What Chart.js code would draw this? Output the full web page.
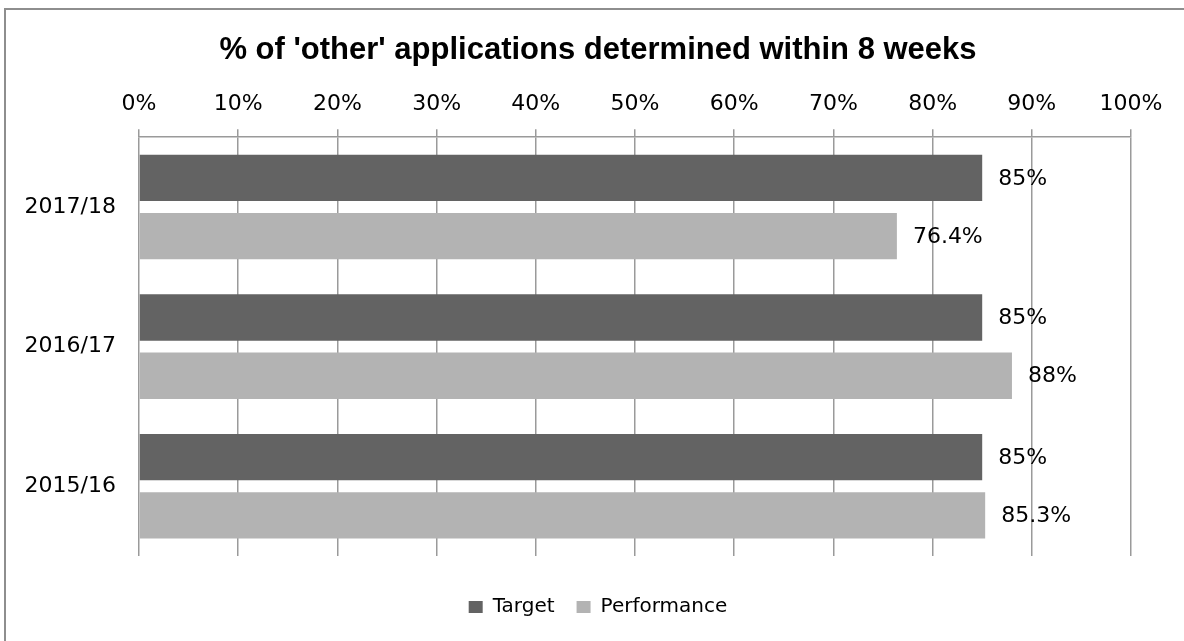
<!DOCTYPE html>
<html>
<head>
<meta charset="utf-8">
<script src="https://cdn.jsdelivr.net/npm/chart.js@4.4.0/dist/chart.umd.min.js"></script>
<style>
  html, body { margin: 0; padding: 0; background: #fff; overflow: hidden; }
  #frame {
    position: absolute; left: 4px; top: 8px; width: 1300px; height: 800px;
    border-left: 2px solid #8e8e8e; border-top: 2px solid #8e8e8e;
  }
  #wrap { position: absolute; left: 0; top: 0; width: 1184px; height: 641px; }
</style>
</head>
<body>
<div id="frame"></div>
<div id="wrap"><canvas id="chart" width="1184" height="641"></canvas></div>
<script>
// Financial years, top to bottom
const years = ['2017/18', '2016/17', '2015/16'];
// Share of 'other' applications decided within 8 weeks (%)
const targetValues = [85, 85, 85];
const performanceValues = [76.4, 88, 85.3];
// Percentage axis ticks
const tickValues = [0, 10, 20, 30, 40, 50, 60, 70, 80, 90, 100];

const bodyFont = 'DejaVu Sans';

// Writes each bar's value just past its end
const valueLabels = {
  id: 'valueLabels',
  afterDatasetsDraw(chart) {
    const ctx = chart.ctx;
    ctx.save();
    ctx.font = '22px "' + bodyFont + '"';
    ctx.fillStyle = '#000';
    ctx.textAlign = 'left';
    ctx.textBaseline = 'middle';
    chart.data.datasets.forEach((ds, i) => {
      chart.getDatasetMeta(i).data.forEach((bar, j) => {
        ctx.fillText(ds.data[j] + '%', bar.x + 16, bar.y + 1);
      });
    });
    ctx.restore();
  }
};

// Empty axis used only to reserve space around the plot
const spacer = (position, size) => ({
  type: 'linear',
  position: position,
  display: true,
  ticks: { display: false },
  grid: { display: false, drawTicks: false },
  border: { display: false },
  afterFit(scale) {
    if (position === 'left' || position === 'right') scale.width = size;
    else scale.height = size;
  }
});

new Chart(document.getElementById('chart'), {
  type: 'bar',
  data: {
    labels: years,
    datasets: [
      { label: 'Target', data: targetValues, backgroundColor: '#636363',
        barPercentage: 0.795, categoryPercentage: 0.835 },
      { label: 'Performance', data: performanceValues, backgroundColor: '#b3b3b3',
        barPercentage: 0.795, categoryPercentage: 0.835 }
    ]
  },
  options: {
    indexAxis: 'y',
    responsive: false,
    animation: false,
    events: [],
    layout: { padding: { left: 12, right: 0, top: 0, bottom: 14 } },
    scales: {
      x: {
        position: 'top',
        min: 0, max: 100,
        afterBuildTicks(scale) { scale.ticks = tickValues.map(v => ({ value: v })); },
        afterFit(scale) { scale.height = 58.5; },
        ticks: {
          callback: v => v + '%',
          font: { family: bodyFont, size: 22 },
          color: '#000',
          padding: 12,
          maxRotation: 0
        },
        grid: { color: '#9a9a9a', lineWidth: 1.5, tickLength: 8, drawTicks: true },
        border: { color: '#9a9a9a', width: 1.5 }
      },
      y: {
        afterFit(scale) { scale.width = 127; },
        ticks: {
          font: { family: bodyFont, size: 22 },
          color: '#000',
          padding: 15
        },
        grid: { display: false },
        border: { display: false }
      },
      padRight: spacer('right', 53),
      padBottom: spacer('bottom', 19)
    },
    plugins: {
      title: {
        display: true,
        text: "% of 'other' applications determined within 8 weeks",
        font: { family: 'Liberation Sans', size: 31, weight: 'bold' },
        color: '#000',
        padding: { top: 31.5, bottom: 10 }
      },
      legend: {
        position: 'bottom',
        labels: {
          font: { family: bodyFont, size: 20 },
          color: '#000',
          boxWidth: 14,
          boxHeight: 12,
          padding: 22
        }
      },
      tooltip: { enabled: false }
    }
  },
  plugins: [valueLabels]
});
</script>
</body>
</html>
